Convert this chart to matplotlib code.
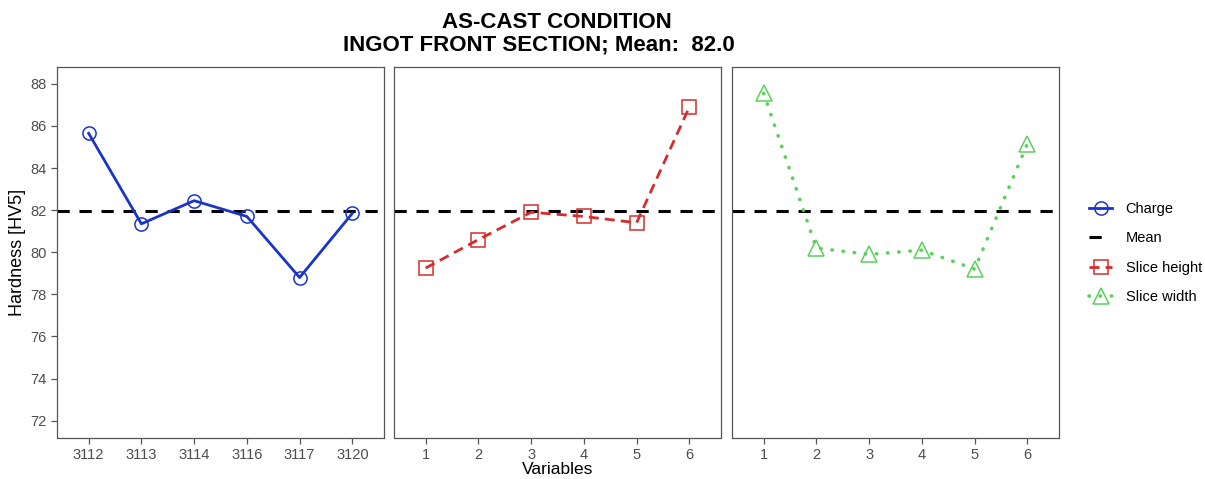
import matplotlib.pyplot as plt
from matplotlib.lines import Line2D

plt.rcParams['font.family'] = ['Liberation Sans', 'DejaVu Sans']

charge_labels = ['3112', '3113', '3114', '3116', '3117', '3120']
charge_vals = [85.65, 81.35, 82.45, 81.7, 78.8, 81.85]
height_labels = ['1', '2', '3', '4', '5', '6']
height_vals = [79.25, 80.6, 81.9, 81.7, 81.4, 86.9]
width_labels = ['1', '2', '3', '4', '5', '6']
width_vals = [87.55, 80.2, 79.9, 80.1, 79.2, 85.15]
mean_val = 81.95

blue = '#1a34c8'
red = '#d42c2c'
green = '#5ad25a'
mean_dash = (0, (4, 3.2))
dot_dash = (0, (0.1, 3.0))

fig = plt.figure(figsize=(12.05, 4.79), dpi=100)
W, H = 1205, 479
lefts = [57, 394, 732]
pw = 327
top, bottom = 67, 437.5
axes = []
for l in lefts:
    ax = fig.add_axes([l / W, 1 - bottom / H, pw / W, (bottom - top) / H])
    axes.append(ax)

series = [
    (charge_labels, charge_vals, blue, '-', 'o'),
    (height_labels, height_vals, red, (0, (3.6, 2.2)), 's'),
    (width_labels, width_vals, green, dot_dash, '^'),
]

for ax, (labels, vals, col, ls, mk) in zip(axes, series):
    x = list(range(1, len(vals) + 1))
    ax.axhline(mean_val, color='black', lw=2.2, ls=mean_dash, zorder=1)
    if mk == '^':
        ax.plot(x, vals, color=col, lw=2.6, ls=ls, dash_capstyle='round', zorder=2)
    else:
        ax.plot(x, vals, color=col, lw=2.0, ls=ls, zorder=2)
    ax.plot(x, vals, ls='none', marker=mk, markersize=9.5 if mk != '^' else 11,
            markerfacecolor='none', markeredgecolor=col, markeredgewidth=1.1,
            zorder=3)
    ax.set_xlim(0.4, 6.6)
    ax.set_ylim(71.2, 88.8)
    ax.set_xticks(x)
    ax.set_xticklabels(labels)
    ax.set_yticks(range(72, 89, 2))
    ax.tick_params(axis='both', colors='#555555', labelsize=10.5, length=4,
                   width=0.9, labelcolor='#4d4d4d')
    for s in ax.spines.values():
        s.set_color('#555555')
        s.set_linewidth(0.9)

for ax in axes[1:]:
    ax.tick_params(axis='y', left=False, labelleft=False)

axes[0].set_ylabel('Hardness [HV5]', fontsize=13, color='black', labelpad=3)
axes[1].set_xlabel('Variables', fontsize=12.5, color='black', labelpad=0)

fig.text(557 / W, 1 - 22 / H, 'AS-CAST CONDITION', ha='center', va='center',
         fontsize=16, fontweight='bold')
fig.text(539 / W, 1 - 45 / H, 'INGOT FRONT SECTION; Mean:  82.0', ha='center',
         va='center', fontsize=16, fontweight='bold')

handles = [
    Line2D([], [], color=blue, lw=2, marker='o', markersize=9.5,
           markerfacecolor='none', markeredgecolor=blue, markeredgewidth=1.1),
    Line2D([], [], color='black', lw=2.2, ls=(0, (4, 8))),
    Line2D([], [], color=red, lw=2, ls=(0, (3.6, 2.2)), marker='s', markersize=9.5,
           markerfacecolor='none', markeredgecolor=red, markeredgewidth=1.1),
    Line2D([], [], color=green, lw=2.6, ls=dot_dash, dash_capstyle='round',
           marker='^', markersize=11,
           markerfacecolor='none', markeredgecolor=green, markeredgewidth=1.1),
]
names = ['Charge', 'Mean', 'Slice height', 'Slice width']
fig.legend(handles, names, loc='center left', bbox_to_anchor=(1076 / W, 1 - 253 / H),
           frameon=False, fontsize=10.5, handlelength=1.6, labelspacing=1.05,
           handletextpad=0.9)

fig.savefig('out.png', dpi=100)
